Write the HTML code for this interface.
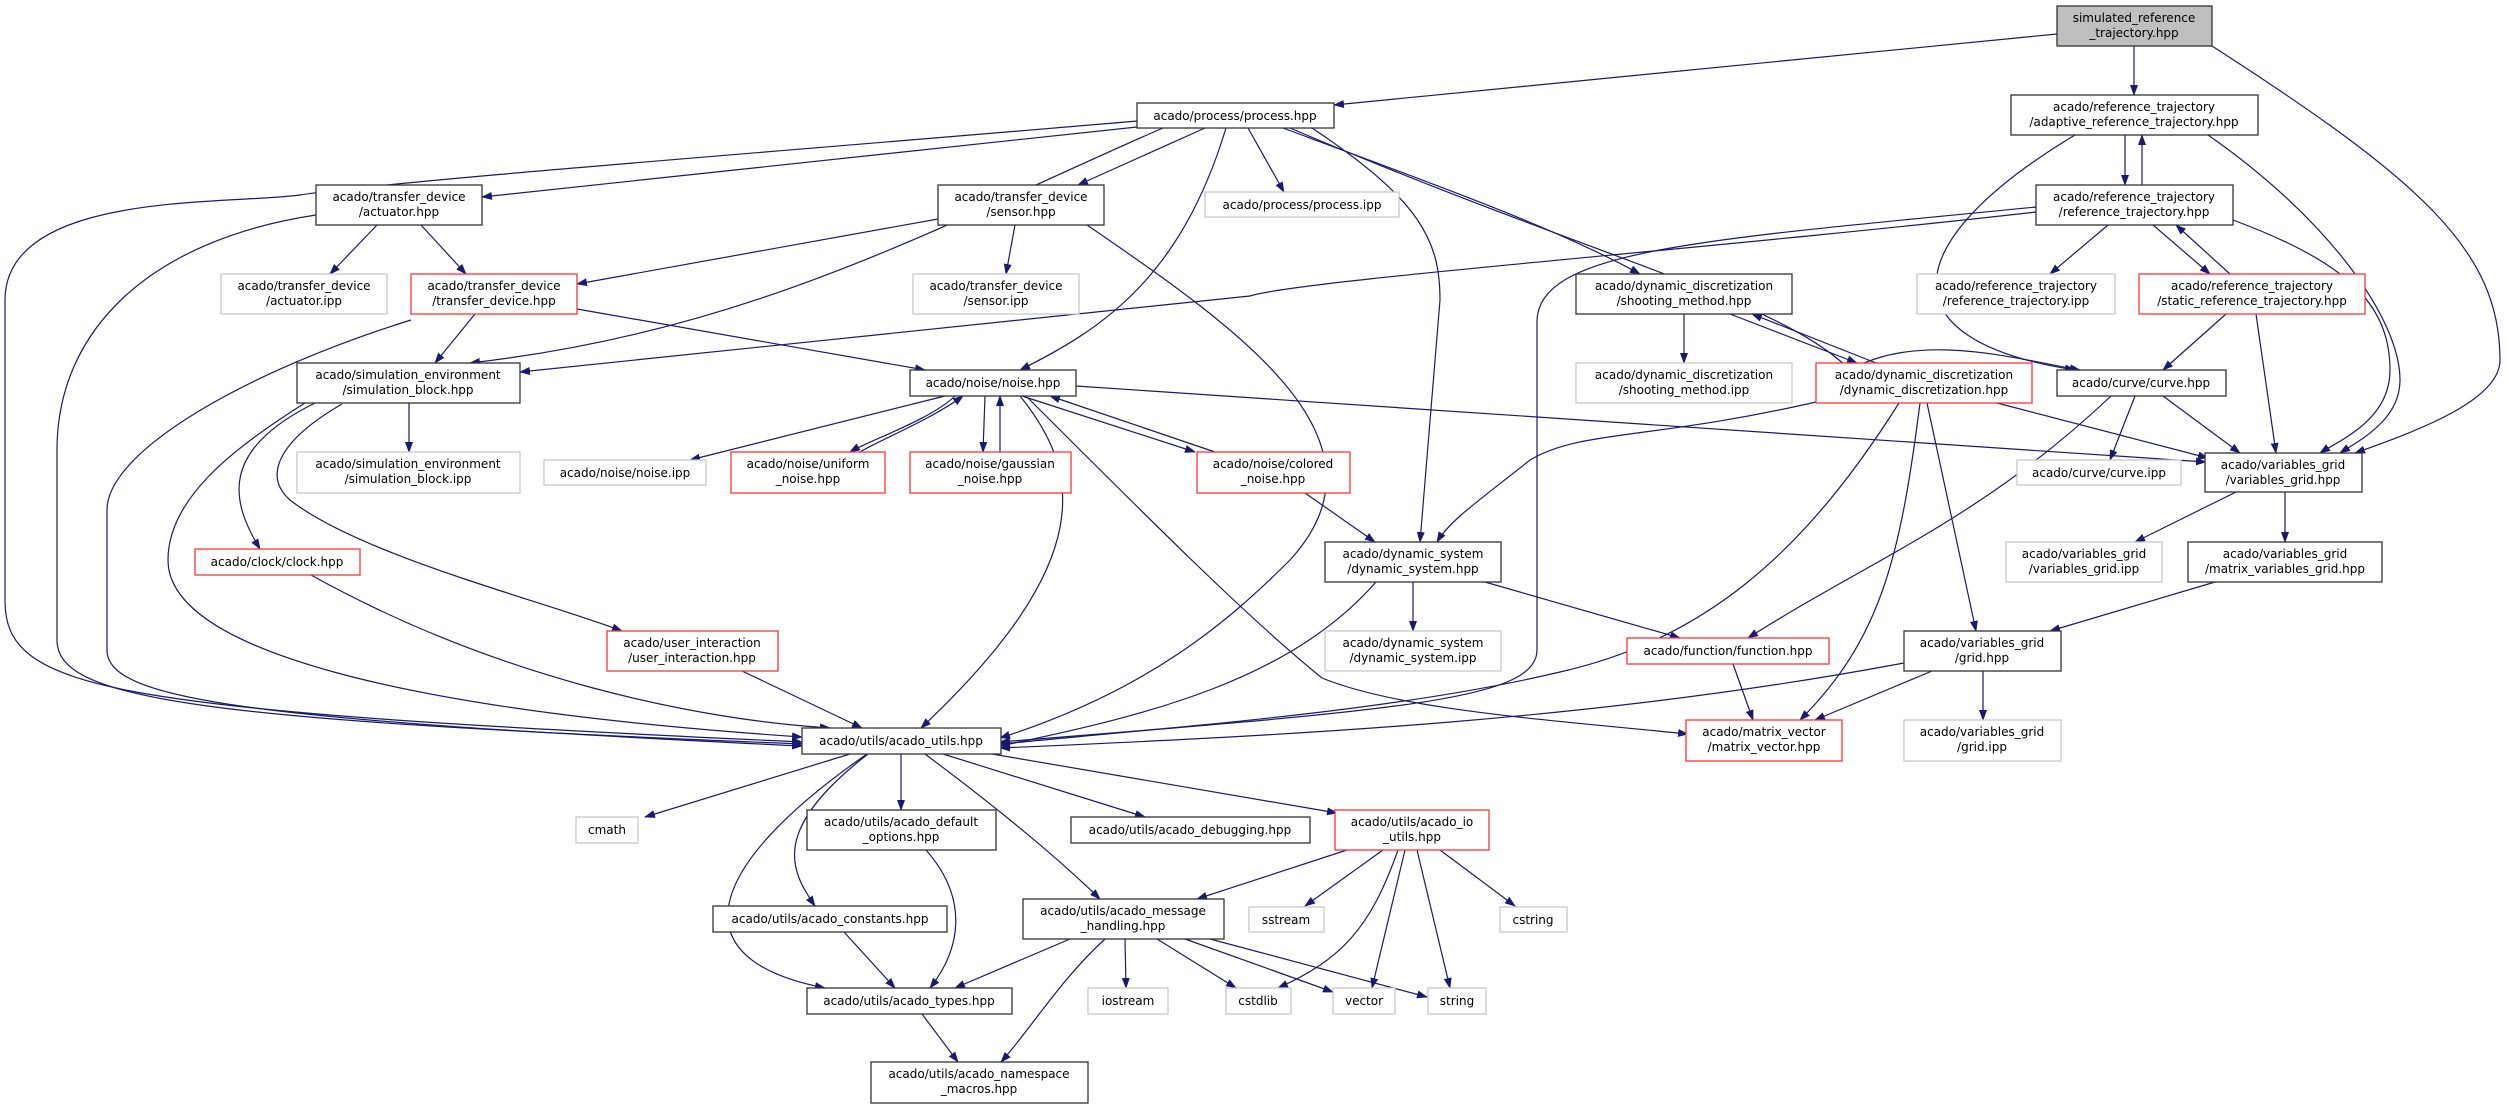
<!DOCTYPE html>
<html><head><meta charset="utf-8"><style>
html,body{margin:0;padding:0;background:#fff;}
svg{display:block;}
text{font-family:"DejaVu Sans","Liberation Sans",sans-serif;font-size:12px;fill:#000;text-anchor:middle;}
.e{fill:none;stroke:#191970;stroke-width:1.2;marker-end:url(#a);}
.k{fill:#fff;stroke:#333;stroke-width:1.3;}
.g{fill:#fff;stroke:#c8c8c8;stroke-width:1.3;}
.r{fill:#fff;stroke:#ff3333;stroke-width:1.3;}
</style></head><body>
<svg width="2509" height="1109" viewBox="0 0 2509 1109" xmlns="http://www.w3.org/2000/svg">
<defs><marker id="a" markerWidth="11" markerHeight="8" refX="10" refY="4" orient="auto" markerUnits="userSpaceOnUse"><path d="M0,0 L11,4 L0,8 z" fill="#191970"/></marker></defs>

<!-- edges -->
<path class="e" d="M2057,34 L1334,105"/>
<path class="e" d="M2134,46 L2134,95"/>
<path class="e" d="M2212,46 C2420,180 2500,250 2500,360 C2500,400 2420,430 2355,453"/>
<path class="e" d="M1137,121 C800,150 400,180 300,195 C230,205 5,190 5,300 L5,600 C5,690 100,710 802,742"/>
<path class="e" d="M1137,127 L482,197"/>
<path class="e" d="M1205,128 L1078,185"/>
<path class="e" d="M1163,128 C950,220 760,330 470,363"/>
<path class="e" d="M1226,128 C1180,280 1100,330 1020,370"/>
<path class="e" d="M1248,128 L1284,192"/>
<path class="e" d="M1283,128 C1450,190 1560,230 1640,274"/>
<path class="e" d="M1312,128 C1420,200 1440,240 1440,300 L1420,542"/>
<path class="e" d="M1290,128 C1600,260 1780,300 1850,370 C1920,330 2020,360 2080,370"/>
<path class="e" d="M316,215 C150,240 57,330 57,450 L57,640 C57,700 200,720 802,744"/>
<path class="e" d="M377,225 L330,274"/>
<path class="e" d="M421,225 L466,274"/>
<path class="e" d="M938,219 L577,284"/>
<path class="e" d="M1015,225 L1006,274"/>
<path class="e" d="M1087,225 C1240,330 1400,440 1290,560 C1230,620 1150,690 1000,738"/>
<path class="e" d="M2036,212 C1700,250 1300,280 1250,296 L520,372"/>
<path class="e" d="M2036,207 C1700,240 1540,250 1537,320 L1537,650 C1537,700 1400,710 1000,742"/>
<path class="e" d="M2108,225 L2050,274"/>
<path class="e" d="M2153,225 L2210,274"/>
<path class="e" d="M2230,274 L2176,225"/>
<path class="e" d="M2233,220 C2340,260 2390,300 2390,370 C2390,420 2340,440 2320,453"/>
<path class="e" d="M2125,135 L2125,185"/>
<path class="e" d="M2142,185 L2142,135"/>
<path class="e" d="M2075,135 C1900,240 1880,340 2075,370"/>
<path class="e" d="M2208,135 C2330,220 2400,320 2400,380 C2400,420 2360,440 2340,453"/>
<path class="e" d="M2226,314 L2163,370"/>
<path class="e" d="M2256,314 L2276,453"/>
<path class="e" d="M1684,314 L1684,363"/>
<path class="e" d="M1730,314 L1857,363"/>
<path class="e" d="M1876,363 L1752,314"/>
<path class="e" d="M1816,402 C1650,440 1580,430 1530,460 C1480,500 1450,520 1437,542"/>
<path class="e" d="M1899,403 C1800,560 1700,640 1560,672 C1400,710 1200,725 1000,744"/>
<path class="e" d="M1920,403 C1900,560 1880,640 1800,720"/>
<path class="e" d="M1927,403 L1976,631"/>
<path class="e" d="M1997,403 L2208,458"/>
<path class="e" d="M2111,396 C1980,520 1870,560 1748,638"/>
<path class="e" d="M2135,396 L2110,460"/>
<path class="e" d="M2163,396 L2240,453"/>
<path class="e" d="M2236,492 L2135,542"/>
<path class="e" d="M2285,492 L2285,542"/>
<path class="e" d="M2215,582 L2050,631"/>
<path class="e" d="M1904,663 C1600,720 1300,735 1000,748"/>
<path class="e" d="M1932,671 L1815,720"/>
<path class="e" d="M1983,671 L1983,720"/>
<path class="e" d="M1733,664 L1753,720"/>
<path class="e" d="M1413,582 L1413,631"/>
<path class="e" d="M1485,582 L1680,638"/>
<path class="e" d="M1376,582 C1290,680 1150,715 1000,746"/>
<path class="e" d="M1076,386 L2206,462"/>
<path class="e" d="M945,396 L690,460"/>
<path class="e" d="M955,396 C930,420 870,440 850,452"/>
<path class="e" d="M860,452 C880,440 930,420 963,396"/>
<path class="e" d="M985,396 L983,452"/>
<path class="e" d="M1000,452 L1000,396"/>
<path class="e" d="M1022,396 L1195,452"/>
<path class="e" d="M1215,452 L1050,396"/>
<path class="e" d="M1020,396 C1080,470 1100,560 921,728"/>
<path class="e" d="M1028,398 C1150,520 1250,620 1322,678 C1400,710 1550,720 1688,734"/>
<path class="e" d="M1305,493 L1375,542"/>
<path class="e" d="M475,314 L435,363"/>
<path class="e" d="M577,309 L925,370"/>
<path class="e" d="M411,320 C250,370 107,450 107,510 L107,650 C107,700 250,720 802,746"/>
<path class="e" d="M409,403 L409,452"/>
<path class="e" d="M315,403 C220,450 230,500 260,549"/>
<path class="e" d="M342,404 C280,440 262,475 290,500 C360,555 540,600 622,631"/>
<path class="e" d="M305,403 C230,450 168,500 168,560 C168,650 400,710 802,737"/>
<path class="e" d="M311,575 C500,680 700,720 830,728"/>
<path class="e" d="M742,671 L862,728"/>
<path class="e" d="M850,754 L645,817"/>
<path class="e" d="M901,754 L901,810"/>
<path class="e" d="M943,754 L1145,817"/>
<path class="e" d="M992,754 L1337,813"/>
<path class="e" d="M925,754 C1000,810 1060,860 1100,899"/>
<path class="e" d="M868,754 C770,830 790,870 815,906"/>
<path class="e" d="M867,754 C700,870 680,960 825,988"/>
<path class="e" d="M926,850 C970,900 960,950 930,988"/>
<path class="e" d="M844,932 L895,988"/>
<path class="e" d="M1070,939 L955,988"/>
<path class="e" d="M1105,939 C1060,980 1030,1030 1001,1062"/>
<path class="e" d="M1125,939 L1126,988"/>
<path class="e" d="M1157,939 L1236,988"/>
<path class="e" d="M1185,939 L1333,992"/>
<path class="e" d="M1210,939 L1427,997"/>
<path class="e" d="M922,1014 L958,1062"/>
<path class="e" d="M1347,850 L1197,899"/>
<path class="e" d="M1383,850 L1305,906"/>
<path class="e" d="M1398,850 C1370,930 1340,960 1278,988"/>
<path class="e" d="M1405,850 L1372,988"/>
<path class="e" d="M1417,850 L1450,988"/>
<path class="e" d="M1440,850 L1515,906"/>

<!-- nodes -->
<rect x="2057" y="6" width="155" height="40" fill="#bfbfbf" stroke="#333" stroke-width="1.3"/>
<text x="2134" y="22">simulated_reference</text><text x="2134" y="37">_trajectory.hpp</text>

<rect class="k" x="1137" y="103" width="197" height="25"/><text x="1235" y="120">acado/process/process.hpp</text>
<rect class="g" x="1205" y="192" width="194" height="25"/><text x="1302" y="209">acado/process/process.ipp</text>

<rect class="k" x="2011" y="95" width="247" height="40"/><text x="2134" y="111">acado/reference_trajectory</text><text x="2134" y="126">/adaptive_reference_trajectory.hpp</text>
<rect class="k" x="2036" y="185" width="197" height="40"/><text x="2134" y="201">acado/reference_trajectory</text><text x="2134" y="216">/reference_trajectory.hpp</text>
<rect class="g" x="1917" y="274" width="198" height="40"/><text x="2016" y="290">acado/reference_trajectory</text><text x="2016" y="305">/reference_trajectory.ipp</text>
<rect class="r" x="2139" y="274" width="226" height="40"/><text x="2252" y="290">acado/reference_trajectory</text><text x="2252" y="305">/static_reference_trajectory.hpp</text>

<rect class="k" x="1576" y="274" width="216" height="40"/><text x="1684" y="290">acado/dynamic_discretization</text><text x="1684" y="305">/shooting_method.hpp</text>
<rect class="g" x="1576" y="363" width="216" height="40"/><text x="1684" y="379">acado/dynamic_discretization</text><text x="1684" y="394">/shooting_method.ipp</text>
<rect class="r" x="1816" y="363" width="216" height="40"/><text x="1924" y="379">acado/dynamic_discretization</text><text x="1924" y="394">/dynamic_discretization.hpp</text>
<rect class="k" x="2057" y="370" width="169" height="26"/><text x="2141" y="387">acado/curve/curve.hpp</text>
<rect class="g" x="2017" y="460" width="164" height="25"/><text x="2099" y="477">acado/curve/curve.ipp</text>
<rect class="k" x="2205" y="453" width="157" height="39"/><text x="2283" y="469">acado/variables_grid</text><text x="2283" y="484">/variables_grid.hpp</text>
<rect class="g" x="2006" y="542" width="156" height="40"/><text x="2084" y="558">acado/variables_grid</text><text x="2084" y="573">/variables_grid.ipp</text>
<rect class="k" x="2188" y="542" width="194" height="40"/><text x="2285" y="558">acado/variables_grid</text><text x="2285" y="573">/matrix_variables_grid.hpp</text>
<rect class="k" x="1904" y="631" width="157" height="40"/><text x="1982" y="647">acado/variables_grid</text><text x="1982" y="662">/grid.hpp</text>
<rect class="g" x="1904" y="720" width="157" height="41"/><text x="1982" y="736">acado/variables_grid</text><text x="1982" y="751">/grid.ipp</text>
<rect class="r" x="1686" y="720" width="156" height="41"/><text x="1764" y="736">acado/matrix_vector</text><text x="1764" y="751">/matrix_vector.hpp</text>
<rect class="r" x="1627" y="638" width="202" height="26"/><text x="1728" y="655">acado/function/function.hpp</text>
<rect class="k" x="1325" y="542" width="176" height="40"/><text x="1413" y="558">acado/dynamic_system</text><text x="1413" y="573">/dynamic_system.hpp</text>
<rect class="g" x="1325" y="631" width="176" height="40"/><text x="1413" y="647">acado/dynamic_system</text><text x="1413" y="662">/dynamic_system.ipp</text>

<rect class="k" x="316" y="185" width="166" height="40"/><text x="399" y="201">acado/transfer_device</text><text x="399" y="216">/actuator.hpp</text>
<rect class="k" x="938" y="185" width="166" height="40"/><text x="1021" y="201">acado/transfer_device</text><text x="1021" y="216">/sensor.hpp</text>
<rect class="g" x="221" y="274" width="166" height="40"/><text x="304" y="290">acado/transfer_device</text><text x="304" y="305">/actuator.ipp</text>
<rect class="r" x="411" y="274" width="166" height="40"/><text x="494" y="290">acado/transfer_device</text><text x="494" y="305">/transfer_device.hpp</text>
<rect class="g" x="913" y="274" width="166" height="40"/><text x="996" y="290">acado/transfer_device</text><text x="996" y="305">/sensor.ipp</text>
<rect class="k" x="297" y="363" width="223" height="40"/><text x="408" y="379">acado/simulation_environment</text><text x="408" y="394">/simulation_block.hpp</text>
<rect class="g" x="297" y="452" width="223" height="41"/><text x="408" y="468">acado/simulation_environment</text><text x="408" y="483">/simulation_block.ipp</text>
<rect class="k" x="910" y="370" width="166" height="26"/><text x="993" y="387">acado/noise/noise.hpp</text>
<rect class="g" x="544" y="460" width="162" height="25"/><text x="625" y="477">acado/noise/noise.ipp</text>
<rect class="r" x="731" y="452" width="154" height="41"/><text x="808" y="468">acado/noise/uniform</text><text x="808" y="483">_noise.hpp</text>
<rect class="r" x="910" y="452" width="161" height="41"/><text x="990" y="468">acado/noise/gaussian</text><text x="990" y="483">_noise.hpp</text>
<rect class="r" x="1197" y="452" width="153" height="41"/><text x="1273" y="468">acado/noise/colored</text><text x="1273" y="483">_noise.hpp</text>
<rect class="r" x="195" y="549" width="165" height="26"/><text x="277" y="566">acado/clock/clock.hpp</text>
<rect class="r" x="607" y="631" width="171" height="40"/><text x="692" y="647">acado/user_interaction</text><text x="692" y="662">/user_interaction.hpp</text>

<rect class="k" x="802" y="728" width="199" height="26"/><text x="901" y="745">acado/utils/acado_utils.hpp</text>
<rect class="g" x="576" y="817" width="62" height="26"/><text x="607" y="834">cmath</text>
<rect class="k" x="807" y="810" width="189" height="40"/><text x="901" y="826">acado/utils/acado_default</text><text x="901" y="841">_options.hpp</text>
<rect class="k" x="1071" y="817" width="239" height="26"/><text x="1190" y="834">acado/utils/acado_debugging.hpp</text>
<rect class="r" x="1335" y="810" width="154" height="40"/><text x="1412" y="826">acado/utils/acado_io</text><text x="1412" y="841">_utils.hpp</text>
<rect class="k" x="713" y="906" width="234" height="26"/><text x="830" y="923">acado/utils/acado_constants.hpp</text>
<rect class="k" x="1023" y="899" width="201" height="40"/><text x="1123" y="915">acado/utils/acado_message</text><text x="1123" y="930">_handling.hpp</text>
<rect class="g" x="1249" y="907" width="75" height="25"/><text x="1286" y="924">sstream</text>
<rect class="g" x="1500" y="907" width="67" height="25"/><text x="1533" y="924">cstring</text>
<rect class="k" x="807" y="988" width="205" height="26"/><text x="909" y="1005">acado/utils/acado_types.hpp</text>
<rect class="g" x="1088" y="988" width="80" height="26"/><text x="1128" y="1005">iostream</text>
<rect class="g" x="1226" y="988" width="65" height="26"/><text x="1258" y="1005">cstdlib</text>
<rect class="g" x="1333" y="988" width="62" height="26"/><text x="1364" y="1005">vector</text>
<rect class="g" x="1428" y="988" width="58" height="26"/><text x="1457" y="1005">string</text>
<rect class="k" x="871" y="1062" width="217" height="41"/><text x="979" y="1078">acado/utils/acado_namespace</text><text x="979" y="1093">_macros.hpp</text>
</svg>
</body></html>
